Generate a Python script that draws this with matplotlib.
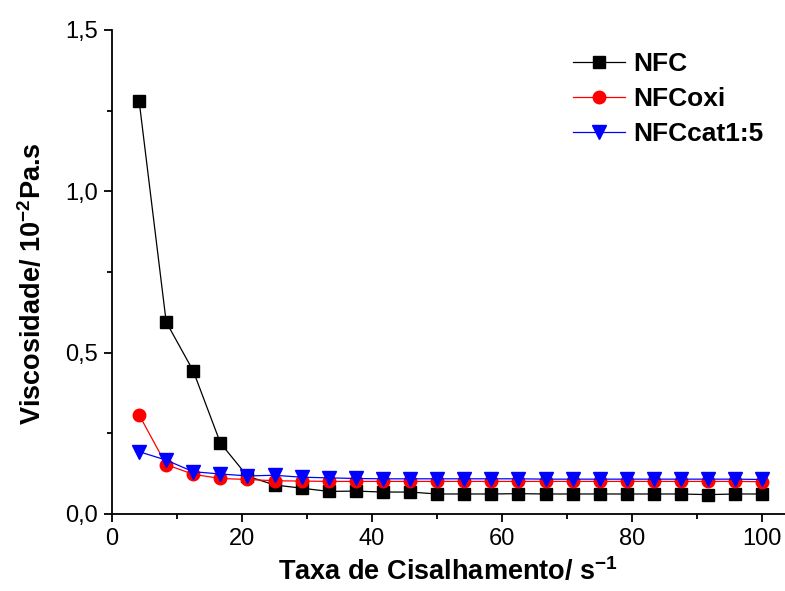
import numpy as np
import matplotlib
matplotlib.use('Agg')
import matplotlib.pyplot as plt
from matplotlib.ticker import MultipleLocator

plt.rcParams['font.family'] = ['Liberation Sans', 'DejaVu Sans']
plt.rcParams['mathtext.fontset'] = 'custom'
plt.rcParams['mathtext.rm'] = 'Liberation Sans'
plt.rcParams['mathtext.bf'] = 'Liberation Sans:bold'

# shear rate (s^-1)
shear_rate = [4.17, 8.33, 12.5, 16.67, 20.83, 25.0, 29.17, 33.33, 37.5, 41.67,
              45.83, 50.0, 54.17, 58.33, 62.5, 66.67, 70.83, 75.0, 79.17, 83.33,
              87.5, 91.67, 95.83, 100.0]

# viscosity (10^-2 Pa.s)
nfc = [1.28, 0.595, 0.443, 0.220, 0.117, 0.090, 0.080, 0.070, 0.071, 0.068,
       0.068, 0.062, 0.062, 0.062, 0.063, 0.062, 0.062, 0.062, 0.062, 0.062,
       0.062, 0.060, 0.062, 0.062]
nfc_oxi = [0.307, 0.153, 0.123, 0.110, 0.107, 0.103, 0.102, 0.101, 0.101, 0.101,
           0.101, 0.101, 0.101, 0.101, 0.101, 0.101, 0.101, 0.101, 0.101, 0.101,
           0.101, 0.101, 0.101, 0.100]
nfc_cat = [0.193, 0.167, 0.131, 0.124, 0.118, 0.120, 0.114, 0.112, 0.110, 0.109,
           0.109, 0.109, 0.109, 0.109, 0.109, 0.108, 0.108, 0.108, 0.108, 0.108,
           0.108, 0.108, 0.108, 0.107]

series_labels = ['NFC', 'NFCoxi', 'NFCcat1:5']
x_ticks = [0, 20, 40, 60, 80, 100]
y_ticks = [0.0, 0.5, 1.0, 1.5]
y_tick_labels = ['0,0', '0,5', '1,0', '1,5']

fig = plt.figure(figsize=(7.85, 5.91), dpi=100)
ax = fig.add_axes([0.1427, 0.1303, 0.8573, 0.8190])

ax.plot(shear_rate, nfc, color='black', marker='s', markersize=8.5, lw=0.9,
        label=series_labels[0])
ax.plot(shear_rate, nfc_oxi, color='red', marker='o', markersize=9, lw=0.9,
        label=series_labels[1])
ax.plot(shear_rate, nfc_cat, color='blue', marker='v', markersize=10, lw=0.9,
        label=series_labels[2])

ax.set_xlim(0, 103.5)
ax.set_ylim(0, 1.5)
ax.set_xticks(x_ticks)
ax.set_yticks(y_ticks)
ax.set_yticklabels(y_tick_labels)
ax.xaxis.set_minor_locator(MultipleLocator(10))
ax.yaxis.set_minor_locator(MultipleLocator(0.25))

for side in ['top', 'right']:
    ax.spines[side].set_visible(False)
for side in ['left', 'bottom']:
    ax.spines[side].set_linewidth(1.3)

ax.tick_params(which='major', direction='out', length=6, width=1.3, labelsize=17, pad=4)
ax.tick_params(which='minor', direction='out', length=3.5, width=1.3)

ax.set_xlabel(r'Taxa de Cisalhamento/ s$^{\mathbf{-1}}$', fontsize=19.5,
              fontweight='bold', labelpad=5)
ax.set_ylabel(r'Viscosidade/ 10$^{\mathbf{-2}}$Pa.s', fontsize=19.5,
              fontweight='bold')
# label sits a little below the axis centre in the original
ax.yaxis.set_label_coords(-0.097, 0.475)

leg = ax.legend(loc='upper left', bbox_to_anchor=(573 / 785, 1 - 52 / 591),
                bbox_transform=fig.transFigure, frameon=False,
                prop={'weight': 'bold', 'size': 19}, handlelength=1.97,
                handletextpad=0.3, labelspacing=0.42, borderpad=0,
                borderaxespad=0)

fig.savefig('out.png', dpi=100)
